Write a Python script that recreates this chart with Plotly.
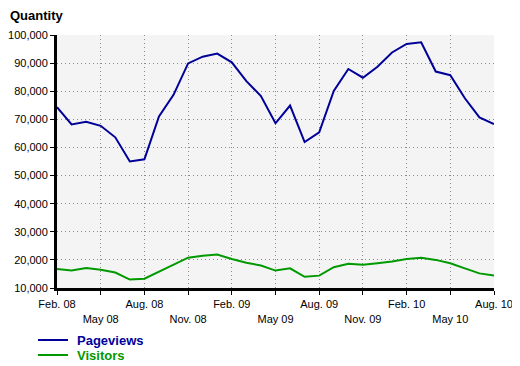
import plotly.graph_objects as go

months = ["Feb. 08", "Mar. 08", "Apr. 08", "May 08", "Jun. 08", "Jul. 08", "Aug. 08",
          "Sep. 08", "Oct. 08", "Nov. 08", "Dec. 08", "Jan. 09", "Feb. 09", "Mar. 09",
          "Apr. 09", "May 09", "Jun. 09", "Jul. 09", "Aug. 09", "Sep. 09", "Oct. 09",
          "Nov. 09", "Dec. 09", "Jan. 10", "Feb. 10", "Mar. 10", "Apr. 10", "May 10",
          "Jun. 10", "Jul. 10", "Aug. 10"]

pageviews = [74300, 68200, 69100, 67700, 63600, 55000, 55800, 71000, 78700, 89900,
             92300, 93400, 90300, 83600, 78300, 68600, 74900, 61900, 65400, 80100,
             87900, 84800, 88700, 93800, 96800, 97400, 87000, 85700, 77500, 70700, 68300]

visitors = [16800, 16200, 17100, 16500, 15500, 13000, 13300, 15800, 18200, 20800,
            21500, 21900, 20300, 19000, 18000, 16200, 17000, 14000, 14400, 17400,
            18600, 18300, 18800, 19400, 20300, 20800, 20000, 18800, 17000, 15200, 14400]

tick_months = ["Feb. 08", "May 08", "Aug. 08", "Nov. 08", "Feb. 09", "May 09",
               "Aug. 09", "Nov. 09", "Feb. 10", "May 10", "Aug. 10"]

y_ticks = [10000, 20000, 30000, 40000, 50000, 60000, 70000, 80000, 90000, 100000]

BLUE = "#000099"
GREEN = "#009900"

fig = go.Figure()
fig.add_trace(go.Scatter(x=months, y=pageviews, mode="lines", name="Pageviews",
                         line=dict(color=BLUE, width=2)))
fig.add_trace(go.Scatter(x=months, y=visitors, mode="lines", name="Visitors",
                         line=dict(color=GREEN, width=2)))

ticktext = [m if i % 2 == 0 else "<br>" + m for i, m in enumerate(tick_months)]

# page has an 8px body margin; the figure is placed at (8, 8)
OFF = 8
GRID = dict(showgrid=True, gridcolor="#8a8a8a", griddash="1px,3px", gridwidth=1)
fig.update_layout(
    width=520 - OFF, height=366 - OFF,
    margin=dict(l=57 - OFF, r=26, t=35 - OFF, b=78, autoexpand=False),
    paper_bgcolor="white",
    plot_bgcolor="#f4f4f4",
    showlegend=False,
    font=dict(family="Liberation Sans", size=11, color="black"),
    xaxis=dict(
        type="category", range=[0, len(months) - 1],
        tickvals=tick_months, ticktext=ticktext,
        showline=True, linecolor="black", linewidth=3,
        ticks="outside", ticklen=4, tickcolor="black", tickwidth=1,
        zeroline=False, tickangle=0, automargin=False, **GRID,
    ),
    yaxis=dict(
        range=[10000, 100000], tickvals=y_ticks, tickformat=",",
        showline=True, linecolor="black", linewidth=3,
        ticks="outside", ticklen=4, tickcolor="black", tickwidth=1,
        zeroline=False, automargin=False, **GRID,
    ),
)

W = 437.0
H = 253.0
def px(x):
    return (x - 57) / W
def py(y):
    return (288 - y) / H

fig.add_annotation(text="<b>Quantity</b>", xref="paper", yref="paper",
                   x=px(9), y=py(15.5), xanchor="left", yanchor="middle", showarrow=False,
                   borderpad=0, height=15,
                   font=dict(family="Liberation Sans", size=13, color="black"))

for name, color, yy in [("Pageviews", BLUE, 340), ("Visitors", GREEN, 355)]:
    fig.add_shape(type="line", xref="paper", yref="paper",
                  x0=px(38), x1=px(68), y0=py(yy), y1=py(yy),
                  line=dict(color=color, width=2))
    fig.add_annotation(text="<b>" + name + "</b>", xref="paper", yref="paper",
                       x=px(76), y=py(yy), xanchor="left", yanchor="middle", showarrow=False,
                       borderpad=0, height=15,
                       font=dict(family="Liberation Sans", size=13, color=color))

fig.write_html("out.html")
